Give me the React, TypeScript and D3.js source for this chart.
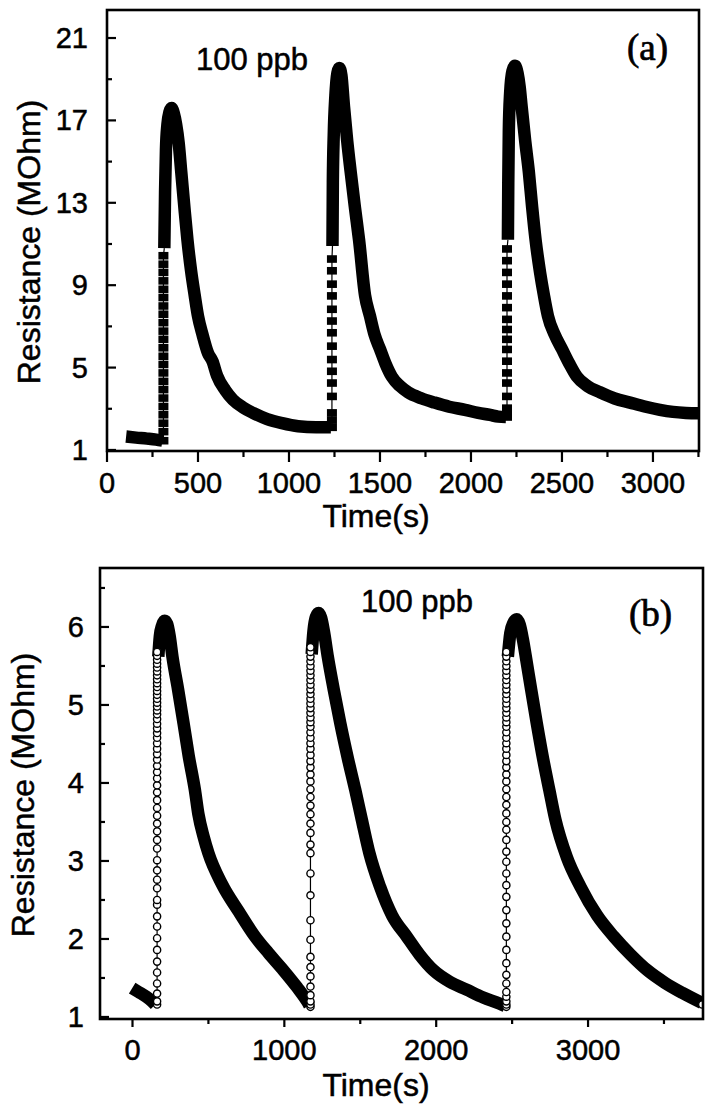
import React from "react";
import * as d3 from "d3";

type P = [number, number];

// ---------------- Panel (a): filled squares ----------------
const aXTicks = [0, 500, 1000, 1500, 2000, 2500, 3000];
const aXMinor = [250, 750, 1250, 1750, 2250, 2750, 3250];
const aYTicks = [1, 5, 9, 13, 17, 21];
const aYMinor = [3, 7, 11, 15, 19];

// thick (dense) parts of the record: [time s, resistance MOhm]
const aBand0: P[] = [[105, 1.65], [160, 1.6], [220, 1.55], [270, 1.5], [305, 1.45]];
const aBand1: P[] = [
  [315, 10.8], [319, 13.5], [324, 15.6], [332, 16.8], [343, 17.4], [355, 17.6], [367, 17.35],
  [380, 16.8], [394, 15.9], [408, 14.5], [425, 12.8], [442, 11.2], [462, 9.7], [482, 8.5], [500, 7.5],
  [525, 6.6], [555, 5.7], [580, 5.3], [605, 4.6], [650, 3.9], [692, 3.44], [750, 3.05],
  [802, 2.8], [880, 2.5], [962, 2.3], [1050, 2.15], [1150, 2.1], [1230, 2.1],
];
const aBand2: P[] = [
  [1239, 10.9], [1241, 14], [1246, 16.3], [1255, 18.2], [1266, 19.3], [1276, 19.55], [1288, 19.2],
  [1302, 17.7], [1320, 16.0], [1339, 14.5], [1362, 12.8], [1385, 11.2], [1418, 8.5], [1445, 7.5],
  [1470, 6.6], [1500, 5.9], [1530, 5.2], [1565, 4.56], [1610, 4.1], [1654, 3.8], [1730, 3.5],
  [1800, 3.3], [1880, 3.1], [1967, 2.95], [2040, 2.8], [2105, 2.7], [2150, 2.62], [2192, 2.6],
];
const aBand3: P[] = [
  [2203, 11.2], [2205, 14], [2208, 16.5], [2215, 18.3], [2228, 19.4], [2242, 19.65], [2256, 19.3],
  [2268, 18.6], [2278, 17.7], [2298, 16.0], [2318, 14.5], [2336, 12.8], [2355, 11.2], [2380, 9.6],
  [2401, 8.5], [2423, 7.5], [2460, 6.6], [2500, 5.9], [2540, 5.2], [2582, 4.56], [2640, 4.1],
  [2709, 3.8], [2790, 3.5], [2874, 3.3], [2960, 3.1], [3038, 2.95], [3110, 2.85], [3181, 2.8],
  [3260, 2.78],
];
// sparse points on the rising edges
const aRiseTimes = [310, 1236, 2198];
const aRise1 = [1.45, 1.89, 2.3, 2.71, 3.11, 3.52, 3.93, 4.33, 4.74, 5.15, 5.55, 5.96, 6.37, 6.77, 7.18, 7.59, 7.99, 8.4, 8.8, 9.21, 9.62, 10.02, 10.43];
const aRise2 = [2.1, 2.45, 2.8, 3.6, 4.25, 4.82, 5.39, 6.04, 6.69, 7.26, 7.83, 8.48, 9.05, 9.7, 10.27];
const aRise3 = [2.6, 2.8, 3.03, 3.6, 4.25, 4.74, 5.31, 5.88, 6.37, 6.85, 7.34, 7.91, 8.48, 9.05, 9.62, 10.19, 10.76];

// ---------------- Panel (b): open circles ----------------
const bXTicks = [0, 1000, 2000, 3000];
const bXMinor = [500, 1500, 2500, 3500];
const bYTicks = [1, 2, 3, 4, 5, 6];
const bYMinor = [1.5, 2.5, 3.5, 4.5, 5.5, 6.5];

const bBand0: P[] = [[-2, 1.37], [40, 1.32], [90, 1.26], [129, 1.2], [150, 1.16]];
const bBand1: P[] = [
  [170, 5.62], [180, 5.88], [195, 6.02], [212, 6.08], [228, 6.04], [245, 5.88], [263, 5.62],
  [300, 5.2], [336, 4.77], [370, 4.35], [411, 3.91], [434, 3.6], [470, 3.3], [500, 3.1],
  [590, 2.7], [700, 2.35], [800, 2.05], [895, 1.82], [993, 1.6], [1084, 1.38], [1150, 1.2],
  [1165, 1.15],
];
const bBand2: P[] = [
  [1180, 5.65], [1192, 5.95], [1208, 6.13], [1226, 6.18], [1242, 6.12], [1260, 5.95], [1286, 5.62],
  [1325, 5.2], [1368, 4.77], [1420, 4.3], [1467, 3.91], [1510, 3.53], [1560, 3.1], [1630, 2.67],
  [1710, 2.3], [1806, 2.03], [1890, 1.8], [1981, 1.6], [2090, 1.45], [2200, 1.35], [2310, 1.25],
  [2420, 1.17], [2455, 1.14],
];
const bBand3: P[] = [
  [2472, 5.62], [2488, 5.92], [2508, 6.05], [2530, 6.1], [2550, 6.03], [2570, 5.85], [2590, 5.62],
  [2625, 5.2], [2662, 4.77], [2705, 4.3], [2745, 3.91], [2785, 3.53], [2860, 3.05], [2950, 2.67],
  [3060, 2.3], [3170, 2.03], [3280, 1.8], [3390, 1.6], [3505, 1.44], [3620, 1.31], [3750, 1.18],
];
const bRiseTimes = [162, 1172, 2462];
const bRise1 = [1.16, 1.2, 1.3, 1.43, 1.57, 1.71, 1.86, 2.01, 2.16, 2.29, 2.44, 2.5, 2.65, 2.76, 2.88, 3.01, 3.16, 3.27, 3.38, 3.48, 3.58, 3.68, 3.78, 3.88, 3.97, 4.06, 4.14, 4.22, 4.3, 4.37, 4.44, 4.51, 4.58, 4.64, 4.7, 4.76, 4.82, 4.88, 4.93, 4.98, 5.03, 5.08, 5.13, 5.18, 5.23, 5.28, 5.33, 5.38, 5.43, 5.48, 5.53, 5.58, 5.63, 5.68];
const bRise2 = [1.13, 1.16, 1.2, 1.28, 1.39, 1.52, 1.64, 1.77, 1.99, 2.24, 2.56, 2.84, 3.1, 3.21, 3.36, 3.48, 3.6, 3.71, 3.82, 3.92, 4.02, 4.11, 4.2, 4.28, 4.36, 4.44, 4.51, 4.58, 4.65, 4.72, 4.78, 4.84, 4.9, 4.96, 5.02, 5.08, 5.14, 5.2, 5.26, 5.32, 5.38, 5.44, 5.5, 5.56, 5.62, 5.68, 5.74];
const bRise3 = [1.13, 1.16, 1.2, 1.26, 1.32, 1.43, 1.54, 1.69, 1.86, 2.03, 2.2, 2.37, 2.54, 2.69, 2.84, 2.99, 3.12, 3.27, 3.4, 3.5, 3.61, 3.72, 3.82, 3.92, 4.02, 4.11, 4.2, 4.28, 4.36, 4.44, 4.51, 4.58, 4.65, 4.72, 4.78, 4.84, 4.9, 4.96, 5.02, 5.08, 5.14, 5.2, 5.26, 5.32, 5.38, 5.44, 5.5, 5.56, 5.62, 5.68];
const bLastPoint: P[] = [[3752, 1.16]];

const SANS = "'Liberation Sans', Arial, Helvetica, sans-serif";
const SERIF = "'Liberation Serif', 'Times New Roman', serif";

interface PanelCfg {
  id: string;
  box: { left: number; right: number; top: number; bottom: number };
  xDomain: [number, number];
  yDomain: [number, number];
  xTicks: number[];
  xMinor: number[];
  yTicks: number[];
  yMinor: number[];
  bands: P[][];
  riseTimes: number[];
  rises: number[][];
  marker: "square" | "circle";
  extraPoints: P[];
  xMajorLen: number;
  xMinorLen: number;
  yLabelRight: number;
  xLabelBaseline: number;
  yTitle: { x: number; y: number };
  xTitle: { x: number; y: number };
  ppb: { x: number; y: number };
  tag: { text: string; x: number; y: number };
}

const textStroke = { stroke: "#000", strokeWidth: 0.5 };

function Panel({ c }: { c: PanelCfg }) {
  const { box } = c;
  const x = d3.scaleLinear().domain(c.xDomain).range([box.left, box.right]);
  const y = d3.scaleLinear().domain(c.yDomain).range([box.bottom, box.top]);
  const line = d3
    .line<P>()
    .x((d) => x(d[0]))
    .y((d) => y(d[1]))
    .curve(d3.curveMonotoneX);
  const thin = d3
    .line<P>()
    .x((d) => x(d[0]))
    .y((d) => y(d[1]));
  const clipId = `clip-${c.id}`;
  const risePts: P[][] = c.rises.map((vals, i) => vals.map((v) => [c.riseTimes[i], v] as P));
  const connectors: P[][] = risePts.map((pts, i) => {
    const prev = c.bands[i];
    const next = c.bands[i + 1];
    return [prev[prev.length - 1], ...pts, next[0]];
  });
  const bandW = 12.5;
  return (
    <g>
      <defs>
        <clipPath id={clipId}>
          <rect x={box.left} y={box.top} width={box.right - box.left} height={box.bottom - box.top} />
        </clipPath>
      </defs>
      <g clipPath={`url(#${clipId})`}>
        {connectors.map((pts, i) => (
          <path key={"c" + i} d={thin(pts) || ""} fill="none" stroke="#000" strokeWidth={1.2} />
        ))}
        {c.bands.map((b, i) => (
          <path
            key={"b" + i}
            d={line(b) || ""}
            fill="none"
            stroke="#000"
            strokeWidth={bandW}
            strokeLinejoin="round"
            strokeLinecap="butt"
          />
        ))}
        {risePts.map((pts, i) =>
          pts.map((p, j) =>
            c.marker === "square" ? (
              <rect key={`s${i}-${j}`} x={x(p[0]) - 5} y={y(p[1]) - 3.8} width={10} height={7.6} fill="#000" />
            ) : (
              <circle key={`o${i}-${j}`} cx={x(p[0])} cy={y(p[1])} r={3.6} fill="#fff" stroke="#000" strokeWidth={1.4} />
            )
          )
        )}
        {c.extraPoints.map((p, i) => (
          <circle key={"e" + i} cx={x(p[0])} cy={y(p[1])} r={3.6} fill="#fff" stroke="#000" strokeWidth={1.4} />
        ))}
      </g>
      {/* frame */}
      <rect
        x={box.left}
        y={box.top}
        width={box.right - box.left}
        height={box.bottom - box.top}
        fill="none"
        stroke="#000"
        strokeWidth={2.6}
      />
      {/* y ticks (inward) */}
      {c.yTicks.map((t) => (
        <line key={"yt" + t} x1={box.left} x2={box.left + 9} y1={y(t)} y2={y(t)} stroke="#000" strokeWidth={2.2} />
      ))}
      {c.yMinor.map((t) => (
        <line key={"ym" + t} x1={box.left} x2={box.left + 5} y1={y(t)} y2={y(t)} stroke="#000" strokeWidth={2.2} />
      ))}
      {/* x ticks (outward) */}
      {c.xTicks.map((t) => (
        <line key={"xt" + t} x1={x(t)} x2={x(t)} y1={box.bottom} y2={box.bottom + c.xMajorLen} stroke="#000" strokeWidth={2.2} />
      ))}
      {c.xMinor.map((t) => (
        <line key={"xm" + t} x1={x(t)} x2={x(t)} y1={box.bottom} y2={box.bottom + c.xMinorLen} stroke="#000" strokeWidth={2.2} />
      ))}
      {/* tick labels */}
      {c.yTicks.map((t) => (
        <text key={"yl" + t} x={c.yLabelRight} y={y(t) + 10} textAnchor="end" fontFamily={SANS} fontSize={29} fill="#000" {...textStroke}>
          {t}
        </text>
      ))}
      {c.xTicks.map((t) => (
        <text key={"xl" + t} x={x(t)} y={c.xLabelBaseline} textAnchor="middle" fontFamily={SANS} fontSize={29} fill="#000" {...textStroke}>
          {t}
        </text>
      ))}
      {/* axis titles */}
      <text
        transform={`translate(${c.yTitle.x},${c.yTitle.y}) rotate(-90)`}
        textAnchor="middle"
        fontFamily={SANS}
        fontSize={32}
        fill="#000"
        {...textStroke}
      >
        Resistance (MOhm)
      </text>
      <text x={c.xTitle.x} y={c.xTitle.y} textAnchor="middle" fontFamily={SANS} fontSize={32} fill="#000" {...textStroke}>
        Time(s)
      </text>
      <text x={c.ppb.x} y={c.ppb.y} fontFamily={SANS} fontSize={31} fill="#000" {...textStroke}>
        100 ppb
      </text>
      <text x={c.tag.x} y={c.tag.y} fontFamily={SERIF} fontSize={37} fill="#000" stroke="#000" strokeWidth={0.7}>
        {c.tag.text}
      </text>
    </g>
  );
}

const panelA: PanelCfg = {
  id: "a",
  box: { left: 107, right: 699, top: 10, bottom: 451 },
  xDomain: [0, 3253],
  yDomain: [0.95, 22.36],
  xTicks: aXTicks,
  xMinor: aXMinor,
  yTicks: aYTicks,
  yMinor: aYMinor,
  bands: [aBand0, aBand1, aBand2, aBand3],
  riseTimes: aRiseTimes,
  rises: [aRise1, aRise2, aRise3],
  marker: "square",
  extraPoints: [],
  xMajorLen: 11,
  xMinorLen: 6,
  yLabelRight: 88,
  xLabelBaseline: 493,
  yTitle: { x: 40, y: 242 },
  xTitle: { x: 376, y: 527 },
  ppb: { x: 196, y: 70 },
  tag: { text: "(a)", x: 627, y: 60 },
};

const panelB: PanelCfg = {
  id: "b",
  box: { left: 100, right: 703, top: 568, bottom: 1019 },
  xDomain: [-214, 3757],
  yDomain: [0.974, 6.756],
  xTicks: bXTicks,
  xMinor: bXMinor,
  yTicks: bYTicks,
  yMinor: bYMinor,
  bands: [bBand0, bBand1, bBand2, bBand3],
  riseTimes: bRiseTimes,
  rises: [bRise1, bRise2, bRise3],
  marker: "circle",
  extraPoints: bLastPoint,
  xMajorLen: 8,
  xMinorLen: 5,
  yLabelRight: 84,
  xLabelBaseline: 1060,
  yTitle: { x: 34, y: 795 },
  xTitle: { x: 376, y: 1096 },
  ppb: { x: 361, y: 612 },
  tag: { text: "(b)", x: 629, y: 626 },
};

export default function App() {
  return (
    <svg
      width={713}
      height={1113}
      viewBox="0 0 713 1113"
      style={{ position: "absolute", left: 0, top: 0, background: "#fff" }}
    >
      <rect x={0} y={0} width={713} height={1113} fill="#fff" />
      <Panel c={panelA} />
      <Panel c={panelB} />
    </svg>
  );
}
